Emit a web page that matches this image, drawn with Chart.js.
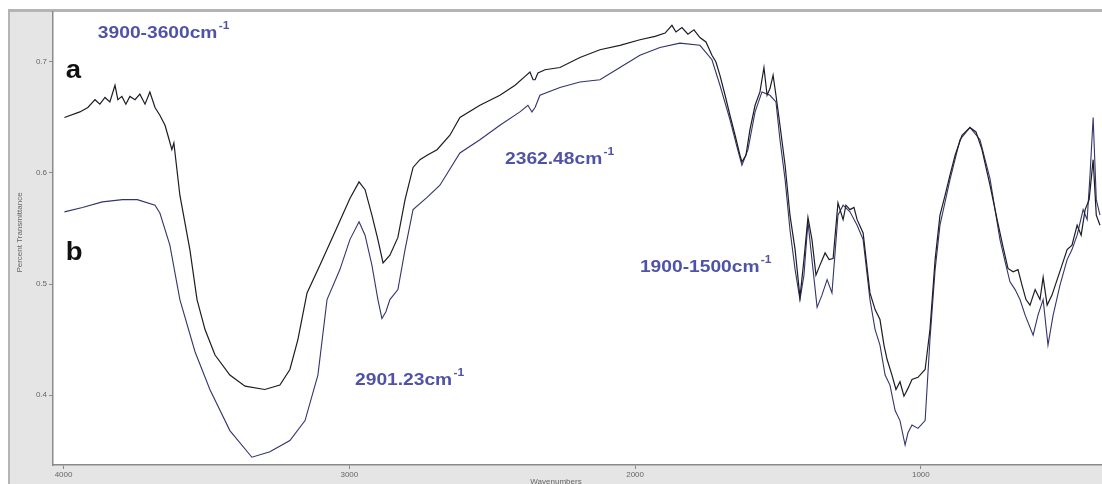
<!DOCTYPE html>
<html>
<head>
<meta charset="utf-8">
<script src="https://cdn.jsdelivr.net/npm/chart.js@4.4.1/dist/chart.umd.min.js"></script>
<style>
  html, body { margin: 0; padding: 0; background: #ffffff; }
  #wrap { width: 1102px; height: 484px; position: relative; }
</style>
</head>
<body>
<div id="wrap"><canvas id="ftir" width="1102" height="484"></canvas></div>
<script>
// FTIR spectra, wavenumber (cm-1) vs percent transmittance
const aWavenumber = [3997,3943,3915,3890,3873,3855,3838,3820,3810,3796,3782,3768,3750,3733,3715,3698,3680,3663,3645,3635,3621,3614,3593,3558,3533,3505,3470,3418,3365,3296,3243,3208,3180,3148,3103,3050,2998,2966,2945,2921,2900,2882,2858,2830,2805,2777,2753,2728,2693,2648,2613,2543,2473,2420,2385,2368,2357,2350,2340,2315,2263,2193,2123,2053,1983,1930,1895,1871,1857,1836,1815,1794,1773,1752,1731,1717,1703,1685,1668,1650,1633,1626,1612,1598,1580,1563,1549,1538,1528,1517,1507,1493,1475,1458,1440,1423,1409,1395,1381,1367,1353,1335,1321,1307,1290,1272,1262,1248,1234,1223,1202,1178,1160,1143,1129,1118,1101,1087,1073,1059,1045,1031,1010,985,968,950,933,915,898,880,856,828,807,786,758,733,712,695,677,660,646,632,618,600,583,572,558,541,523,506,488,471,453,439,425,411,397,386,373];
const aTransmittance = [0.650,0.655,0.659,0.666,0.662,0.668,0.664,0.679,0.666,0.669,0.662,0.669,0.666,0.671,0.662,0.673,0.659,0.652,0.643,0.634,0.621,0.627,0.580,0.531,0.486,0.459,0.436,0.418,0.408,0.405,0.409,0.423,0.450,0.492,0.517,0.547,0.577,0.592,0.585,0.562,0.540,0.519,0.526,0.542,0.576,0.605,0.612,0.616,0.621,0.634,0.650,0.661,0.670,0.679,0.687,0.691,0.684,0.684,0.690,0.693,0.695,0.704,0.711,0.715,0.720,0.723,0.726,0.733,0.727,0.731,0.725,0.729,0.722,0.718,0.706,0.700,0.688,0.670,0.652,0.634,0.616,0.610,0.616,0.639,0.661,0.673,0.695,0.670,0.676,0.688,0.670,0.643,0.607,0.562,0.531,0.488,0.522,0.560,0.540,0.508,0.517,0.528,0.522,0.523,0.573,0.558,0.571,0.567,0.569,0.558,0.546,0.492,0.477,0.468,0.445,0.432,0.418,0.405,0.412,0.399,0.406,0.414,0.416,0.423,0.459,0.522,0.562,0.580,0.598,0.616,0.634,0.641,0.637,0.621,0.589,0.558,0.533,0.514,0.511,0.513,0.499,0.486,0.481,0.495,0.486,0.506,0.481,0.490,0.504,0.517,0.531,0.535,0.553,0.544,0.567,0.576,0.612,0.562,0.553];

const bWavenumber = [3997,3934,3864,3794,3742,3680,3663,3628,3593,3540,3488,3418,3341,3278,3208,3155,3110,3078,3033,2998,2966,2945,2921,2900,2886,2872,2858,2830,2805,2777,2728,2683,2613,2543,2473,2403,2375,2361,2350,2333,2263,2193,2123,2053,1983,1913,1843,1773,1731,1703,1668,1643,1626,1605,1580,1556,1528,1507,1493,1475,1458,1440,1423,1409,1395,1381,1363,1346,1328,1311,1290,1272,1248,1223,1202,1178,1160,1143,1125,1108,1090,1073,1055,1045,1031,1010,985,968,950,933,898,863,828,793,758,723,705,688,670,653,635,607,590,572,555,537,513,488,471,453,432,418,408,397,386,373];
const bTransmittance = [0.565,0.569,0.574,0.576,0.576,0.571,0.564,0.535,0.486,0.439,0.405,0.368,0.344,0.349,0.359,0.377,0.418,0.486,0.513,0.540,0.556,0.544,0.517,0.486,0.469,0.475,0.486,0.495,0.531,0.567,0.578,0.589,0.618,0.630,0.643,0.655,0.661,0.655,0.659,0.670,0.677,0.682,0.684,0.695,0.706,0.713,0.717,0.715,0.702,0.679,0.648,0.623,0.607,0.621,0.655,0.673,0.670,0.664,0.630,0.594,0.549,0.513,0.486,0.508,0.556,0.522,0.479,0.490,0.504,0.492,0.562,0.571,0.565,0.553,0.540,0.486,0.459,0.445,0.418,0.409,0.386,0.377,0.355,0.366,0.373,0.370,0.377,0.450,0.513,0.553,0.594,0.630,0.641,0.630,0.595,0.540,0.520,0.502,0.495,0.486,0.472,0.454,0.472,0.486,0.445,0.472,0.499,0.522,0.531,0.544,0.567,0.558,0.598,0.650,0.576,0.562];

const xTicks = [4000, 3000, 2000, 1000];
const yTicks = [0.4, 0.5, 0.6, 0.7];

// peak-region annotations: [main text, superscript, wavenumber, transmittance]
const peakLabels = [
  ['3900-3600cm', '-1', 3880, 0.7216],
  ['2362.48cm', '-1', 2455, 0.608],
  ['2901.23cm', '-1', 2980, 0.409],
  ['1900-1500cm', '-1', 1983, 0.511]
];
// sample identifiers: [letter, wavenumber, transmittance]
const sampleLabels = [
  ['a', 3992, 0.6856],
  ['b', 3992, 0.522]
];

const toPoints = (xs, ys) => xs.map((x, i) => ({ x: x, y: ys[i] }));

const framePlugin = {
  id: 'frame',
  beforeDraw(chart) {
    const ctx = chart.ctx;
    const a = chart.chartArea;
    ctx.save();
    ctx.fillStyle = '#ffffff';
    ctx.fillRect(0, 0, chart.width, chart.height);
    // grey instrument panel around the plot
    ctx.fillStyle = '#e5e5e5';
    ctx.fillRect(8, 9, chart.width - 8, chart.height - 9);
    ctx.fillStyle = '#ffffff';
    ctx.fillRect(a.left, a.top, a.right - a.left, a.bottom - a.top);
    ctx.fillStyle = '#b4b4b4';
    ctx.fillRect(8, 9, chart.width - 8, 3);
    ctx.fillRect(8, 9, 2, chart.height - 9);
    ctx.restore();
  },
  afterDraw(chart) {
    const ctx = chart.ctx;
    const xs = chart.scales.x, ys = chart.scales.y;
    const a = chart.chartArea;
    ctx.save();
    // axis titles
    ctx.fillStyle = '#666666';
    ctx.font = '8px "Liberation Sans", Arial, sans-serif';
    ctx.textAlign = 'center';
    ctx.textBaseline = 'middle';
    ctx.fillText('Wavenumbers', 556, 482);
    ctx.save();
    ctx.translate(20, (a.top + a.bottom) / 2 - 6);
    ctx.rotate(-Math.PI / 2);
    ctx.fillText('Percent Transmittance', 0, 0);
    ctx.restore();

    // peak region labels
    ctx.textAlign = 'left';
    ctx.textBaseline = 'alphabetic';
    ctx.fillStyle = '#4f52a8';
    peakLabels.forEach(([txt, sup, wn, t]) => {
      const px = xs.getPixelForValue(wn);
      const py = ys.getPixelForValue(t);
      ctx.save();
      ctx.translate(px, py);
      ctx.scale(1.2, 1);
      ctx.font = 'bold 16px "Liberation Sans", Arial, sans-serif';
      ctx.fillText(txt, 0, 0);
      const w = ctx.measureText(txt).width;
      ctx.font = 'bold 10px "Liberation Sans", Arial, sans-serif';
      ctx.fillText(sup, w + 1, -9);
      ctx.restore();
    });

    // sample letters
    ctx.fillStyle = '#111111';
    sampleLabels.forEach(([txt, wn, t]) => {
      const px = xs.getPixelForValue(wn);
      const py = ys.getPixelForValue(t);
      ctx.save();
      ctx.translate(px, py);
      ctx.scale(1.1, 1);
      ctx.font = 'bold 25px "Liberation Sans", Arial, sans-serif';
      ctx.fillText(txt, 0, 0);
      ctx.restore();
    });
    ctx.restore();
  }
};

new Chart(document.getElementById('ftir'), {
  type: 'line',
  data: {
    datasets: [
      {
        label: 'a',
        data: toPoints(aWavenumber, aTransmittance),
        borderColor: '#1c1c24',
        borderWidth: 1.2,
        pointRadius: 0,
        tension: 0,
        fill: false
      },
      {
        label: 'b',
        data: toPoints(bWavenumber, bTransmittance),
        borderColor: '#33346e',
        borderWidth: 1.1,
        pointRadius: 0,
        tension: 0,
        fill: false
      }
    ]
  },
  options: {
    responsive: false,
    animation: false,
    parsing: true,
    layout: { padding: { top: 12, left: 0, right: 0, bottom: 0 } },
    plugins: { legend: { display: false }, tooltip: { enabled: false } },
    scales: {
      x: {
        type: 'linear',
        reverse: true,
        min: 366,
        max: 4037,
        afterFit(scale) { scale.height = 19; },
        afterBuildTicks(scale) { scale.ticks = xTicks.map(v => ({ value: v })); },
        border: { display: true, color: '#8a8a8a', width: 1.5 },
        grid: { display: true, drawOnChartArea: false, drawTicks: true, tickLength: 4, color: '#8a8a8a' },
        ticks: {
          color: '#666666',
          font: { family: '"Liberation Sans", Arial, sans-serif', size: 8 },
          padding: 1,
          maxRotation: 0,
          autoSkip: false,
          callback: v => String(v)
        }
      },
      y: {
        type: 'linear',
        min: 0.337,
        max: 0.745,
        afterFit(scale) { scale.width = 53; },
        afterBuildTicks(scale) { scale.ticks = yTicks.map(v => ({ value: v })); },
        border: { display: true, color: '#8a8a8a', width: 1.5 },
        grid: { display: true, drawOnChartArea: false, drawTicks: true, tickLength: 4, color: '#8a8a8a' },
        ticks: {
          color: '#666666',
          font: { family: '"Liberation Sans", Arial, sans-serif', size: 8 },
          padding: 2,
          autoSkip: false,
          callback: v => v.toFixed(1)
        }
      }
    }
  },
  plugins: [framePlugin]
});
</script>
</body>
</html>
